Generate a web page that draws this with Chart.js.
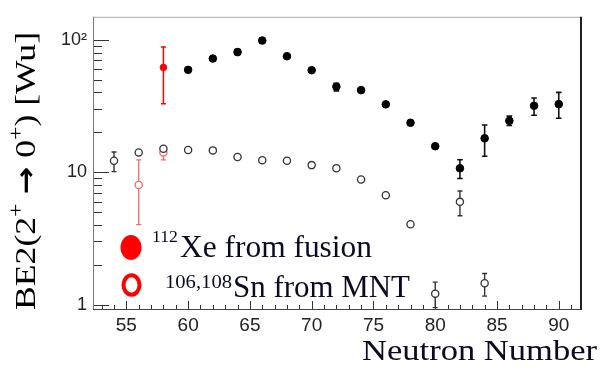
<!DOCTYPE html>
<html><head><meta charset="utf-8">
<script src="https://cdn.jsdelivr.net/npm/chart.js@4/dist/chart.umd.min.js"></script>
<style>html,body{margin:0;padding:0;background:#fff;} #wrap{width:603px;height:371px;position:relative;} canvas{display:block;}</style>
</head><body><div id="wrap"><canvas id="c" width="603" height="371"></canvas></div>
<script>
// ---- data ----
const xeKnownN  = [60,62,64,66,68,70,72,74,76,78,80,82,84,86,88,90];
const xeKnownB  = [59.2,72,80.5,98.5,75,58.8,44.2,41.6,32.5,23.6,15.7,10.7,18.0,24.4,31.7,32.6];
const xeKnownLo = [null,null,77,94,null,null,41.1,null,null,null,null,8.96,13.2,22.5,26.9,25.5];
const xeKnownHi = [null,null,84.5,103,null,null,46.9,null,null,null,null,12.4,22.7,26.5,36.3,40.0];

const snKnownN  = [54,56,58,60,62,64,66,68,70,72,74,76,78,80,82,84];
const snKnownB  = [12.2,14.1,15.0,14.7,14.6,13.0,12.3,12.2,11.3,10.7,8.8,6.7,4.04,1.21,5.97,1.45];
const snKnownLo = [10.1,null,null,null,null,null,null,null,null,null,null,null,null,0.95,4.69,1.16];
const snKnownHi = [14.2,null,null,null,null,null,null,null,null,null,null,null,null,1.48,7.2,1.72];

const xeFusionN  = [58];
const xeFusionB  = [61.7];
const xeFusionLo = [32.8];
const xeFusionHi = [88.1];

const snMntN  = [56,58];
const snMntB  = [8.0,14.1];
const snMntLo = [4.02,12.4];
const snMntHi = [12.4,15.3];

const xTickValues = [55,60,65,70,75,80,85,90];
const yTickValues = [1,10,100];
const yTickLabels = ['1','10','10\u00B2'];

const legendLabels = [
  {sup:'112', text:'Xe from fusion'},
  {sup:'106,108', text:'Sn from MNT'}
];
const xTitle = 'Neutron Number';

// ---- helpers ----
function pts(xs, ys, lo, hi){ return xs.map((x,i)=>({x:x, y:ys[i], lo:lo?lo[i]:null, hi:hi?hi[i]:null})); }

const errorBars = {
  id:'errorBars',
  beforeDatasetsDraw(chart){
    const {ctx, chartArea:a, scales:{x,y}} = chart;
    ctx.save();
    ctx.beginPath(); ctx.rect(a.left,a.top,a.right-a.left,a.bottom-a.top); ctx.clip();
    chart.data.datasets.forEach(ds=>{
      ctx.strokeStyle = ds.errColor; ctx.lineWidth = ds.errWidth;
      ds.data.forEach(p=>{
        if(p.lo==null||p.hi==null) return;
        const px = x.getPixelForValue(p.x);
        const y1 = y.getPixelForValue(p.lo), y2 = y.getPixelForValue(p.hi);
        const c = ds.capHalf;
        ctx.beginPath();
        ctx.moveTo(px,y1); ctx.lineTo(px,y2);
        ctx.moveTo(px-c,y1); ctx.lineTo(px+c,y1);
        ctx.moveTo(px-c,y2); ctx.lineTo(px+c,y2);
        ctx.stroke();
      });
    });
    ctx.restore();
  }
};

function drawFit(ctx, str, x, base, width, font, color){
  ctx.save();
  ctx.font = font; ctx.fillStyle = color; ctx.textBaseline='alphabetic'; ctx.textAlign='left';
  const w = ctx.measureText(str).width;
  ctx.translate(x, base); ctx.scale(width/w, 1);
  ctx.fillText(str, 0, 0);
  ctx.restore();
}

const decor = {
  id:'decor',
  afterDraw(chart){
    const {ctx, chartArea:a, scales:{x,y}} = chart;
    ctx.save();
    // ticks
    ctx.strokeStyle='#333'; ctx.lineWidth=1;
    for(let v=Math.ceil(x.min); v<=Math.floor(x.max); v++){
      const px = Math.round(x.getPixelForValue(v))+0.5;
      const L = (v%5===0)?8:4;
      ctx.beginPath(); ctx.moveTo(px,a.bottom); ctx.lineTo(px,a.bottom-L); ctx.stroke();
    }
    [1,10,100].forEach(dec=>{
      for(let m=1;m<=9;m++){
        const v = dec*m;
        if(v<y.min||v>y.max) continue;
        const py = Math.round(y.getPixelForValue(v))+0.5;
        const L = (m===1)?16:9;
        ctx.beginPath(); ctx.moveTo(a.left,py); ctx.lineTo(a.left+L,py); ctx.stroke();
      }
    });
    // frame
    ctx.lineWidth=1;
    ctx.strokeStyle='#aaa'; ctx.beginPath(); ctx.moveTo(a.left,a.top+0.5); ctx.lineTo(a.right,a.top+0.5); ctx.stroke();
    ctx.strokeStyle='#777'; ctx.beginPath(); ctx.moveTo(a.left+0.5,a.top); ctx.lineTo(a.left+0.5,a.bottom); ctx.stroke();
    ctx.strokeStyle='#444'; ctx.beginPath(); ctx.moveTo(a.left,a.bottom+0.5); ctx.lineTo(a.right,a.bottom+0.5); ctx.stroke();
    ctx.strokeStyle='#222'; ctx.lineWidth=2; ctx.beginPath(); ctx.moveTo(a.right,a.top); ctx.lineTo(a.right,a.bottom+1); ctx.stroke();

    // legend
    ctx.fillStyle='#ff0000';
    ctx.beginPath(); ctx.ellipse(131,247.5,10.5,12.5,0,0,Math.PI*2); ctx.fill();
    ctx.strokeStyle='#ff0000'; ctx.lineWidth=4;
    ctx.beginPath(); ctx.ellipse(131.5,285,8,9.7,0,0,Math.PI*2); ctx.stroke();
    const tc='#0a0a22';
    drawFit(ctx, legendLabels[0].sup, 152, 242, 26, '17px "Liberation Serif"', tc);
    drawFit(ctx, legendLabels[0].text, 180, 256.5, 192, '32px "Liberation Serif"', tc);
    drawFit(ctx, legendLabels[1].sup, 165, 288, 67, '18px "Liberation Serif"', tc);
    drawFit(ctx, legendLabels[1].text, 233, 297, 177, '32px "Liberation Serif"', tc);

    // x title
    drawFit(ctx, xTitle, 362, 360, 235, '30px "Liberation Serif"', '#0a0a22');

    // y title (rotated)
    ctx.save();
    ctx.translate(35, 310); ctx.rotate(-Math.PI/2);
    const parts = [
      {t:'BE2(2', f:'30px "Liberation Serif"', dy:0},
      {t:'+', f:'20px "Liberation Serif"', dy:-12},
      {t:' ', f:'30px "Liberation Serif"', dy:0},
      {t:'\u2192', f:'bold 28px "DejaVu Sans"', dy:0},
      {t:' 0', f:'30px "Liberation Serif"', dy:0},
      {t:'+', f:'20px "Liberation Serif"', dy:-12},
      {t:') [Wu]', f:'30px "Liberation Serif"', dy:0}
    ];
    let tot=0; parts.forEach(p=>{ctx.font=p.f; p.w=ctx.measureText(p.t).width; tot+=p.w;});
    ctx.scale(278/tot,1);
    ctx.fillStyle='#000'; ctx.textBaseline='alphabetic';
    let cx=0; parts.forEach(p=>{ctx.font=p.f; ctx.fillText(p.t,cx,p.dy); cx+=p.w;});
    ctx.restore();
    ctx.restore();
  }
};

new Chart(document.getElementById('c'), {
  type:'scatter',
  data:{ datasets:[
    {label:'Sn known', data:pts(snKnownN,snKnownB,snKnownLo,snKnownHi), pointRadius:3.6, pointBackgroundColor:'#fff', pointBorderColor:'#333', pointBorderWidth:1.3, errColor:'#333', errWidth:1.4, capHalf:2.5},
    {label:'Xe known', data:pts(xeKnownN,xeKnownB,xeKnownLo,xeKnownHi), pointRadius:3.8, pointBackgroundColor:'#000', pointBorderColor:'#000', pointBorderWidth:1, errColor:'#111', errWidth:1.6, capHalf:2.8},
    {label:'Sn MNT', data:pts(snMntN,snMntB,snMntLo,snMntHi), pointRadius:3.6, pointBackgroundColor:'#fff', pointBorderColor:'#f06a6a', pointBorderWidth:1.3, errColor:'#f06a6a', errWidth:1.3, capHalf:2.5},
    {label:'Xe fusion', data:pts(xeFusionN,xeFusionB,xeFusionLo,xeFusionHi), pointRadius:3.3, pointBackgroundColor:'#f00', pointBorderColor:'#f00', pointBorderWidth:1, errColor:'#f00', errWidth:1.5, capHalf:2.5}
  ]},
  options:{
    responsive:false, animation:false, devicePixelRatio:1,
    layout:{padding:{top:9,right:22,left:0,bottom:0}},
    plugins:{legend:{display:false}, tooltip:{enabled:false}},
    scales:{
      x:{type:'linear', min:52.3, max:91.8,
         afterBuildTicks:s=>{s.ticks = xTickValues.map(v=>({value:v}));},
         afterFit:s=>{s.height=62;},
         grid:{display:false, drawTicks:false}, border:{display:false},
         ticks:{padding:5, color:'#222', font:{family:'"Liberation Sans", Arial', size:19}, maxRotation:0, autoSkip:false}},
      y:{type:'logarithmic', min:0.927, max:148.8,
         afterBuildTicks:s=>{s.ticks = yTickValues.map(v=>({value:v}));},
         afterFit:s=>{s.width=93;},
         grid:{display:false, drawTicks:false}, border:{display:false},
         ticks:{padding:6, color:'#222', font:{family:'"Liberation Sans", Arial', size:18}, autoSkip:false,
           callback:(v)=>{const i=yTickValues.indexOf(v); return i>=0?yTickLabels[i]:'';}}}
    }
  },
  plugins:[errorBars, decor]
});
</script></body></html>
